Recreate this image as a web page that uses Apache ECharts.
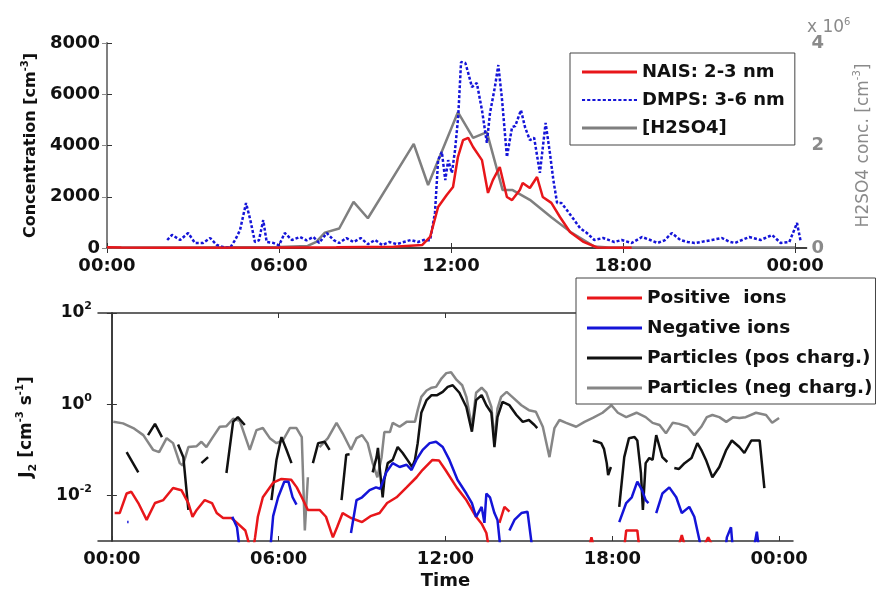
<!DOCTYPE html>
<html>
<head>
<meta charset="utf-8">
<script src="https://cdn.jsdelivr.net/npm/echarts@6/dist/echarts.min.js"></script>
<style>
html, body { margin: 0; padding: 0; background: #fff; }
#chart { width: 880px; height: 592px; }
</style>
</head>
<body>
<div id="chart"></div>
<script>
// time of day in hours, ticks every 6 h
const hourTicks = [0, 6, 12, 18, 24];

// top panel: number concentrations [cm-3] as [hour, value]
const nais = [[0,30],[0.5,20],[2,10],[6,20],[8,30],[10,50],[11,120],[11.27,430],[11.55,1600],[11.85,2070],
  [12.07,2380],[12.24,3550],[12.42,4210],[12.6,4300],[12.77,3940],[13.08,3430],[13.29,2150],[13.46,2650],
  [13.7,3160],[13.95,1990],[14.13,1870],[14.4,2260],[14.5,2540],[14.75,2340],[15.0,2770],[15.2,1990],
  [15.5,1760],[15.8,1210],[16.15,625],[16.6,250],[17.1,20],[18.3,10]];

const dmps = [[2.1,312],[2.27,510],[2.55,312],[2.83,585],[3.07,195],[3.35,195],[3.6,390],[3.83,117],[4.1,20],
  [4.3,20],[4.47,312],[4.64,700],[4.85,1755],[5.0,1090],[5.16,234],[5.3,300],[5.45,1090],[5.57,234],[5.8,200],
  [6.0,100],[6.2,585],[6.45,312],[6.73,430],[6.96,300],[7.2,430],[7.4,200],[7.67,585],[7.9,312],[8.1,195],
  [8.35,390],[8.6,234],[8.85,390],[9.1,150],[9.35,312],[9.6,117],[9.85,234],[10.1,150],[10.35,234],[10.6,312],
  [10.85,234],[11.05,312],[11.27,300],[11.44,1370],[11.55,3430],[11.68,3750],[11.8,2650],[11.9,3430],
  [12.03,2930],[12.14,3820],[12.25,5110],[12.35,7260],[12.5,7220],[12.6,6830],[12.73,6280],[12.9,6440],
  [13.08,5380],[13.25,4100],[13.36,5270],[13.53,6280],[13.65,7140],[13.78,5780],[13.95,3550],[14.13,4720],
  [14.24,4760],[14.44,5380],[14.58,4720],[14.75,4210],[14.9,4300],[15.1,2930],[15.3,4880],[15.45,3700],
  [15.57,2650],[15.7,1760],[15.85,1760],[16.04,1480],[16.3,1090],[16.5,780],[16.74,585],[17.0,312],[17.3,390],
  [17.7,234],[17.95,312],[18.3,195],[18.66,430],[18.95,312],[19.2,195],[19.45,300],[19.7,585],[20.0,312],
  [20.25,234],[20.5,195],[20.8,250],[21.1,312],[21.45,390],[21.7,250],[21.9,195],[22.15,312],[22.4,430],
  [22.8,312],[23.2,510],[23.5,195],[23.8,234],[24.07,975],[24.2,234]];

const h2so4 = [[0,1e4],[3,1e4],[6,2e4],[7,4e4],[7.3,1.2e5],[7.6,3.0e5],[8.1,3.8e5],[8.6,9.0e5],[9.1,5.8e5],
  [10.7,2.03e6],[11.2,1.23e6],[12.24,2.65e6],[12.77,2.15e6],[13.25,2.26e6],[13.8,1.13e6],[14.15,1.13e6],
  [14.75,9.4e5],[15.5,6.0e5],[16.2,3.0e5],[17.0,3e4],[17.5,1e4],[24.0,1e4]];

// bottom panel: J2 [cm-3 s-1], null marks a gap in the record
const posIons = [[0.1,4.1e-3],[0.28,4.1e-3],[0.53,1.1e-2],[0.7,1.2e-2],[0.95,6.8e-3],[1.25,2.9e-3],[1.55,6.8e-3],
  [1.85,7.9e-3],[2.2,1.45e-2],[2.5,1.3e-2],[2.75,6.8e-3],[2.9,3.4e-3],[3.05,4.8e-3],[3.34,7.9e-3],[3.6,6.8e-3],
  [3.77,4.1e-3],[4.0,3.2e-3],[4.3,3.2e-3],[4.5,2.5e-3],[4.8,1.7e-3],[4.95,8e-4],[5.05,5e-4],[5.15,1.2e-3],
  [5.25,3.4e-3],[5.43,9.1e-3],[5.8,1.9e-2],[6.1,2.3e-2],[6.45,2.2e-2],[6.65,1.5e-2],[6.83,9.1e-3],[7.05,4.8e-3],
  [7.47,4.8e-3],[7.7,3.4e-3],[7.95,1.2e-3],[8.1,2.0e-3],[8.3,4.1e-3],[8.6,3.2e-3],[9.0,2.6e-3],[9.3,3.5e-3],
  [9.63,4.1e-3],[9.9,6.8e-3],[10.24,9.1e-3],[10.6,1.5e-2],[10.96,2.5e-2],[11.17,3.6e-2],[11.53,6.0e-2],
  [11.77,5.8e-2],[12.0,3.6e-2],[12.4,1.5e-2],[12.75,7.9e-3],[13.1,3.4e-3],[13.3,2.4e-3],[13.47,1.5e-3],
  [13.6,5e-4],null,[13.94,2.5e-3],[14.12,5.6e-3],[14.3,4.4e-3],null,[17.2,9e-4],[17.25,1.2e-3],[17.3,9e-4],null,
  [18.4,5e-4],[18.5,1.7e-3],[18.9,1.7e-3],[19.0,5e-4],null,[20.3,5e-4],[20.5,1.35e-3],[20.7,5e-4],null,
  [21.3,8e-4],[21.45,1.2e-3],[21.6,8e-4]];

const negIons = [[0.55,2.6e-3],[0.6,2.6e-3],null,[4.33,3.4e-3],[4.5,2.0e-3],[4.62,5e-4],null,[5.68,5e-4],
  [5.8,3.5e-3],[5.98,9.1e-3],[6.2,2.0e-2],[6.35,2.0e-2],[6.5,9.1e-3],[6.64,6.3e-3],null,[8.6,1.5e-3],
  [8.8,7.9e-3],[9.0,9.1e-3],[9.27,1.3e-2],[9.5,1.5e-2],[9.65,1.4e-2],[9.87,3.2e-2],[10.1,5.1e-2],[10.35,4.2e-2],
  [10.6,4.7e-2],[10.78,3.6e-2],[10.95,6.0e-2],[11.18,0.1],[11.43,0.14],[11.66,0.15],[11.9,0.115],[12.14,6.0e-2],
  [12.43,2.2e-2],[12.75,1.1e-2],[12.95,6.8e-3],[13.1,3.4e-3],[13.3,5.6e-3],[13.4,2.5e-3],[13.47,1.1e-2],
  [13.6,9.1e-3],[13.76,4.1e-3],[13.87,2.9e-3],[14.0,5e-4],null,[14.3,1.7e-3],[14.48,2.9e-3],[14.73,4.1e-3],
  [14.95,4.4e-3],[15.15,5e-4],null,[18.25,2.6e-3],[18.5,6.8e-3],[18.7,9.1e-3],[18.9,2.0e-2],[19.07,1.3e-2],
  [19.2,7.9e-3],[19.3,6.8e-3],null,[19.58,4.1e-3],[19.8,1.1e-2],[20.05,1.5e-2],[20.3,9.1e-3],[20.5,4.1e-3],
  [20.77,5.6e-3],[20.95,3.4e-3],[21.25,5e-4],null,[22.05,5e-4],[22.12,1.2e-3],[22.27,2.0e-3],[22.35,5e-4],null,
  [23.05,5e-4],[23.2,1.6e-3],[23.3,5e-4]];

const partPos = [[0.53,0.089],[0.95,0.032],null,[1.3,0.21],[1.55,0.37],[1.8,0.19],null,[2.38,0.13],[2.57,0.069],
  [2.75,4.8e-3],null,[3.22,0.051],[3.46,0.069],null,[4.12,0.031],[4.36,0.41],[4.53,0.52],[4.78,0.35],null,
  [5.74,7.9e-3],[5.92,0.06],[6.1,0.19],[6.28,0.1],[6.46,0.051],null,[7.23,0.051],[7.42,0.14],[7.65,0.15],
  [7.83,0.1],null,[8.26,7.9e-3],[8.43,0.078],[8.55,0.08],null,[9.38,0.032],[9.52,0.069],[9.57,0.11],[9.63,0.042],
  [9.74,9.1e-3],[9.8,0.022],[9.92,0.051],[10.1,0.06],[10.28,0.115],[10.46,0.085],[10.63,0.06],[10.8,0.042],
  [10.9,0.06],[11.0,0.14],[11.13,0.65],[11.32,1.23],[11.5,1.58],[11.7,1.58],[11.9,1.86],[12.08,2.4],[12.26,2.6],
  [12.5,1.78],[12.75,0.87],[12.95,0.25],[13.1,1.23],[13.3,1.58],[13.47,0.95],[13.65,0.65],[13.76,0.115],
  [13.87,0.52],[14.05,1.12],[14.3,0.95],[14.55,0.58],[14.78,0.41],[15.0,0.45],[15.2,0.35],[15.3,0.3],null,
  [17.3,0.16],[17.45,0.15],[17.6,0.14],[17.7,0.105],[17.8,0.051],[17.85,0.028],[17.95,0.042],null,
  [18.25,5.6e-3],[18.43,0.069],[18.6,0.18],[18.8,0.19],[18.9,0.16],[19.03,0.031],[19.1,4.8e-3],[19.2,0.051],
  [19.33,0.066],[19.45,0.06],[19.58,0.21],[19.7,0.115],[19.8,0.069],[19.98,0.054],null,[20.23,0.04],[20.4,0.038],
  [20.6,0.051],[20.85,0.066],[21.06,0.14],[21.2,0.1],[21.37,0.06],[21.6,0.025],[21.85,0.042],[22.1,0.1],
  [22.3,0.16],[22.57,0.115],[22.75,0.085],[23.0,0.16],[23.3,0.16],[23.47,0.0145]];

const partNeg = [[0.05,0.41],[0.4,0.38],[0.77,0.3],[1.13,0.21],[1.48,0.1],[1.7,0.089],[1.97,0.18],[2.2,0.14],
  [2.44,0.051],[2.55,0.045],[2.75,0.115],[3.05,0.12],[3.22,0.15],[3.4,0.115],[3.63,0.19],[3.88,0.32],[4.12,0.33],
  [4.36,0.48],[4.6,0.43],[4.96,0.1],[5.2,0.27],[5.43,0.3],[5.68,0.18],[5.92,0.14],[6.15,0.16],[6.4,0.3],
  [6.64,0.3],[6.83,0.19],[6.94,1.7e-3],[7.05,0.025],null,[7.47,0.115],[7.77,0.18],[8.08,0.39],[8.3,0.23],
  [8.6,0.1],[8.8,0.18],[9.0,0.21],[9.2,0.14],[9.38,0.051],[9.55,0.025],[9.7,0.069],[9.8,0.245],[10.0,0.245],
  [10.1,0.39],[10.35,0.32],[10.6,0.41],[10.9,0.41],[11.0,0.74],[11.13,1.45],[11.32,2.0],[11.5,2.3],[11.66,2.4],
  [11.86,3.7],[12.03,4.8],[12.2,5.0],[12.4,3.4],[12.6,2.6],[12.75,1.45],[12.95,0.32],[13.1,1.78],[13.3,2.3],
  [13.47,1.8],[13.65,0.87],[13.76,0.16],[13.87,0.8],[14.0,1.45],[14.2,1.86],[14.4,1.45],[14.73,0.95],[15.0,0.74],
  [15.25,0.68],[15.5,0.32],[15.74,0.069],[15.92,0.3],[16.1,0.45],[16.34,0.39],[16.7,0.32],[17.0,0.41],[17.3,0.5],
  [17.65,0.65],[17.97,0.95],[18.2,0.65],[18.5,0.52],[18.87,0.65],[19.2,0.52],[19.45,0.39],[19.7,0.35],
  [19.93,0.23],[20.17,0.39],[20.4,0.37],[20.7,0.32],[20.95,0.21],[21.2,0.32],[21.4,0.52],[21.6,0.58],
  [21.85,0.52],[22.1,0.41],[22.35,0.52],[22.57,0.5],[22.8,0.52],[23.17,0.65],[23.53,0.58],[23.75,0.39],[24.0,0.5]];

const FONT = 'DejaVu Sans';
const GRAY = '#8a8a8a';
const AXIS = '#333';
// legend sample for the dotted DMPS line: a row of short dashes
const DOTS = 'path://' + Array.from({ length: 11 }, (_, i) => 'M' + (i * 5) + ',0h3v2h-3z').join(' ');

function hhmm(h) {
  const v = ((h % 24) + 24) % 24;
  return String(v).padStart(2, '0') + ':00';
}
function gaps(arr) {
  return arr.map(p => p ? p : ['-', '-']);
}
function timeAxis(gridIndex, min, max, pos, labels) {
  return {
    type: 'value', gridIndex: gridIndex, min: min, max: max, position: pos,
    axisLine: { show: true, lineStyle: { color: AXIS, width: 1.5 } },
    axisTick: { show: true, inside: true, length: 5, customValues: hourTicks, lineStyle: { color: AXIS } },
    axisLabel: { show: labels, customValues: hourTicks, formatter: hhmm, margin: 9,
      fontFamily: FONT, fontWeight: 'bold', fontSize: 18, color: '#111' },
    splitLine: { show: false }
  };
}
function logLabel(v) {
  const e = Math.round(Math.log10(v));
  return e % 2 === 0 ? '{b|10}{s|' + e + '}' : '';
}
const logRich = {
  b: { fontFamily: FONT, fontWeight: 'bold', fontSize: 17, color: '#111', lineHeight: 24 },
  s: { fontFamily: FONT, fontWeight: 'bold', fontSize: 11, color: '#111', lineHeight: 12, verticalAlign: 'top' }
};

const chart = echarts.init(document.getElementById('chart'));
chart.setOption({
  animation: false,
  backgroundColor: '#fff',
  grid: [
    { left: 107, top: 43, width: 700, height: 205 },
    { left: 98, top: 313, width: 695, height: 228 }
  ],
  xAxis: [
    timeAxis(0, 0, 24.4, 'bottom', true),
    timeAxis(0, 0, 24.4, 'top', false),
    Object.assign(timeAxis(1, -0.5, 24.5, 'bottom', true), {
      name: 'Time', nameLocation: 'middle', nameGap: 31,
      nameTextStyle: { fontFamily: FONT, fontWeight: 'bold', fontSize: 18, color: '#111' }
    }),
    timeAxis(1, -0.5, 24.5, 'top', false)
  ],
  yAxis: [
    {
      type: 'value', gridIndex: 0, min: 0, max: 8000, interval: 2000, position: 'left',
      name: '{a|Concentration [cm}{s|-3}{a|]}', nameLocation: 'middle', nameGap: 56, nameRotate: 90,
      nameTextStyle: { rich: {
        a: { fontFamily: FONT, fontWeight: 'bold', fontSize: 16, color: '#111', lineHeight: 22 },
        s: { fontFamily: FONT, fontWeight: 'bold', fontSize: 10, color: '#111', lineHeight: 11, verticalAlign: 'top' }
      } },
      axisLine: { show: true, lineStyle: { color: AXIS, width: 1.5 } },
      axisTick: { show: true, inside: true, length: 5, lineStyle: { color: AXIS } },
      axisLabel: { margin: 7, fontFamily: FONT, fontWeight: 'bold', fontSize: 18, color: '#111',
        formatter: v => String(v) },
      splitLine: { show: false }
    },
    {
      type: 'value', gridIndex: 0, min: 0, max: 4e6, interval: 1e6, position: 'right',
      name: '{a|H2SO4 conc. [cm}{s|-3}{a|]}', nameLocation: 'middle', nameGap: 46, nameRotate: 90,
      nameTextStyle: { rich: {
        a: { fontFamily: FONT, fontSize: 17, color: GRAY, lineHeight: 22 },
        s: { fontFamily: FONT, fontSize: 10, color: GRAY, lineHeight: 11, verticalAlign: 'top' }
      } },
      axisLine: { show: true, lineStyle: { color: GRAY, width: 1.5 } },
      axisTick: { show: true, inside: true, length: 5, lineStyle: { color: GRAY } },
      axisLabel: { margin: 5, fontFamily: FONT, fontWeight: 'bold', fontSize: 18, color: GRAY,
        formatter: v => (v % 2e6 === 0 ? String(v / 1e6) : '') },
      splitLine: { show: false }
    },
    {
      type: 'log', logBase: 10, gridIndex: 1, min: 1e-3, max: 100, position: 'left',
      name: '{a|J}{u|2}{a| [cm}{s|-3}{a| s}{s|-1}{a|]}', nameLocation: 'middle', nameGap: 59, nameRotate: 90,
      nameTextStyle: { rich: {
        a: { fontFamily: FONT, fontWeight: 'bold', fontSize: 17, color: '#111', lineHeight: 24 },
        s: { fontFamily: FONT, fontWeight: 'bold', fontSize: 10, color: '#111', lineHeight: 11, verticalAlign: 'top' },
        u: { fontFamily: FONT, fontWeight: 'bold', fontSize: 11, color: '#111', lineHeight: 11, verticalAlign: 'bottom' }
      } },
      axisLine: { show: true, lineStyle: { color: AXIS, width: 1.5 } },
      axisTick: { show: true, inside: true, length: 5, customValues: [0.01, 1, 100], lineStyle: { color: AXIS } },
      axisLabel: { margin: 6, formatter: logLabel, rich: logRich },
      splitLine: { show: false }
    },
    {
      type: 'log', logBase: 10, gridIndex: 1, min: 1e-3, max: 100, position: 'right',
      axisLine: { show: true, lineStyle: { color: AXIS, width: 1.5 } },
      axisTick: { show: true, inside: true, length: 5, customValues: [0.01, 1, 100], lineStyle: { color: AXIS } },
      axisLabel: { show: false },
      splitLine: { show: false }
    }
  ],
  legend: [
    {
      data: [
        { name: 'NAIS: 2-3 nm', icon: 'rect' },
        { name: 'DMPS: 3-6 nm', icon: DOTS },
        { name: '[H2SO4]', icon: 'rect' }
      ],
      orient: 'vertical', left: 570, top: 53, padding: [8, 10, 6, 12],
      itemWidth: 55, itemHeight: 3, itemGap: 6,
      backgroundColor: '#fff', borderColor: '#444', borderWidth: 1, borderRadius: 0,
      textStyle: { fontFamily: FONT, fontWeight: 'bold', fontSize: 18, color: '#111', lineHeight: 22 }
    },
    {
      data: [
        { name: 'Positive  ions', icon: 'rect' },
        { name: 'Negative ions', icon: 'rect' },
        { name: 'Particles (pos charg.)', icon: 'rect' },
        { name: 'Particles (neg charg.)', icon: 'rect' }
      ],
      orient: 'vertical', left: 576, top: 278, padding: [9, 3, 5, 11],
      itemWidth: 55, itemHeight: 3, itemGap: 8,
      backgroundColor: '#fff', borderColor: '#444', borderWidth: 1, borderRadius: 0,
      textStyle: { fontFamily: FONT, fontWeight: 'bold', fontSize: 18.5, color: '#111', lineHeight: 22 }
    }
  ],
  graphic: [
    {
      type: 'text', left: 807, top: 17, z: 10,
      style: {
        text: '{a|x 10}{s|6}',
        rich: {
          a: { fontFamily: FONT, fontSize: 17, fill: GRAY, lineHeight: 22 },
          s: { fontFamily: FONT, fontSize: 10, fill: GRAY, lineHeight: 11, verticalAlign: 'top' }
        }
      }
    }
  ],
  series: [
    { name: '[H2SO4]', type: 'line', xAxisIndex: 0, yAxisIndex: 1, data: h2so4, showSymbol: false, symbol: 'none',
      lineStyle: { color: '#7f7f7f', width: 2.5 }, itemStyle: { color: '#7f7f7f' } },
    { name: 'DMPS: 3-6 nm', type: 'line', xAxisIndex: 0, yAxisIndex: 0, data: dmps, showSymbol: false, symbol: 'none',
      lineStyle: { color: '#1414d8', width: 2.5, type: [3, 2] }, itemStyle: { color: '#1414d8' } },
    { name: 'NAIS: 2-3 nm', type: 'line', xAxisIndex: 0, yAxisIndex: 0, data: nais, showSymbol: false, symbol: 'none',
      lineStyle: { color: '#e8161a', width: 2.5 }, itemStyle: { color: '#e8161a' } },

    { name: 'Particles (neg charg.)', type: 'line', xAxisIndex: 2, yAxisIndex: 2, data: gaps(partNeg),
      showSymbol: false, symbol: 'none', connectNulls: false,
      lineStyle: { color: '#868686', width: 2.5 }, itemStyle: { color: '#868686' } },
    { name: 'Particles (pos charg.)', type: 'line', xAxisIndex: 2, yAxisIndex: 2, data: gaps(partPos),
      showSymbol: false, symbol: 'none', connectNulls: false,
      lineStyle: { color: '#111', width: 2.5 }, itemStyle: { color: '#111' } },
    { name: 'Positive  ions', type: 'line', xAxisIndex: 2, yAxisIndex: 2, data: gaps(posIons),
      showSymbol: false, symbol: 'none', connectNulls: false,
      lineStyle: { color: '#e8161a', width: 2.5 }, itemStyle: { color: '#e8161a' } },
    { name: 'Negative ions', type: 'line', xAxisIndex: 2, yAxisIndex: 2, data: gaps(negIons),
      showSymbol: false, symbol: 'none', connectNulls: false,
      lineStyle: { color: '#1414d8', width: 2.5 }, itemStyle: { color: '#1414d8' } }
  ]
});
</script>
</body>
</html>
